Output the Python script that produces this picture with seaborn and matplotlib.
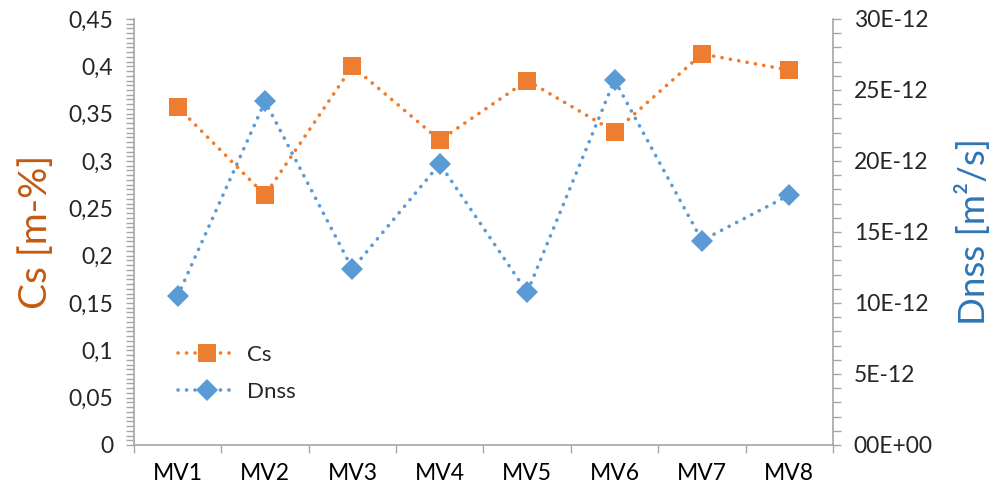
import numpy as np
import pandas as pd
import matplotlib
matplotlib.use("Agg")
import matplotlib.pyplot as plt
from matplotlib.ticker import MultipleLocator, FixedLocator, FuncFormatter
from matplotlib.lines import Line2D
import seaborn as sns

categories = ["MV1", "MV2", "MV3", "MV4", "MV5", "MV6", "MV7", "MV8"]
cs_values = [0.357, 0.264, 0.400, 0.322, 0.385, 0.331, 0.413, 0.396]
dnss_values = [10.5e-12, 24.2e-12, 12.4e-12, 19.8e-12, 10.75e-12, 25.7e-12, 14.4e-12, 17.6e-12]
left_ticks = [0, 0.05, 0.1, 0.15, 0.2, 0.25, 0.3, 0.35, 0.4, 0.45]
right_ticks = [0, 5e-12, 10e-12, 15e-12, 20e-12, 25e-12, 30e-12]
right_labels = ["00E+00", "5E-12", "10E-12", "15E-12", "20E-12", "25E-12", "30E-12"]

sns.set_style("white")
plt.rcParams['font.family'] = ['Lato', 'DejaVu Sans']

orange = "#ED7D31"
blue = "#5B9BD5"
grey = "#A6A6A6"

df = pd.DataFrame({"cat": categories, "Cs": cs_values, "Dnss": dnss_values})

fig = plt.figure(figsize=(9.97, 4.93), dpi=100)
ax = fig.add_axes([0.1344, 0.0974, 0.8355 - 0.1344, 0.9615 - 0.0974])
ax2 = ax.twinx()

line_kw = dict(linewidth=2.6, dashes=(0.05, 2.3), dash_capstyle="round")
sns.lineplot(data=df, x="cat", y="Cs", ax=ax, color=orange, marker="s",
             markersize=13, markeredgewidth=0, sort=False, **line_kw)
sns.lineplot(data=df, x="cat", y="Dnss", ax=ax2, color=blue, marker="D",
             markersize=11, markeredgewidth=0, sort=False, **line_kw)

n = len(categories)
ax.set_xlim(-0.5, n - 0.5)
ax.set_ylim(0, 0.45)
ax2.set_ylim(0, 30e-12)

tick_fs = 16.5

# left axis
ax.yaxis.set_major_locator(FixedLocator(left_ticks))
ax.yaxis.set_minor_locator(MultipleLocator(0.005))
ax.yaxis.set_major_formatter(FuncFormatter(lambda v, p: ("%g" % round(v, 3)).replace(".", ",")))
ax2.yaxis.set_major_locator(FixedLocator(right_ticks))
ax2.yaxis.set_minor_locator(MultipleLocator(1e-12))
ax2.set_yticklabels(right_labels)

# x axis
ax.set_xticks(range(n))
ax.set_xticklabels(categories)
ax.xaxis.set_minor_locator(FixedLocator(np.arange(-0.5, n, 1.0)))
ax.tick_params(axis="x", which="major", length=0, pad=13, labelsize=tick_fs, labelcolor="#000000")
ax.tick_params(axis="x", which="minor", length=6, width=1, color=grey, direction="out", bottom=True)
ax.tick_params(axis="y", which="both", length=6, width=1, color=grey, direction="out", left=True,
               labelsize=tick_fs, pad=9)
ax2.tick_params(axis="y", which="both", length=6, width=1, color=grey, direction="out", right=True,
                labelsize=tick_fs, pad=9)

for a in (ax, ax2):
    for s in a.spines.values():
        s.set_visible(False)
ax.spines["left"].set_visible(True)
ax.spines["bottom"].set_visible(True)
ax2.spines["right"].set_visible(True)
for s in (ax.spines["left"], ax.spines["bottom"], ax2.spines["right"]):
    s.set_color(grey)
    s.set_linewidth(1.2)

ax.set_xlabel("")
ax.set_ylabel("Cs [m-%]", color="#C55A11", fontsize=28, labelpad=10)
ax2.set_ylabel("Dnss [m²/s]", color="#2E75B6", fontsize=26.5, labelpad=16, rotation=90)

handles = [
    Line2D([0], [0], color=orange, marker="s", markersize=13, markeredgewidth=0, **line_kw),
    Line2D([0], [0], color=blue, marker="D", markersize=11, markeredgewidth=0, **line_kw),
]
ax2.legend(handles, ["Cs", "Dnss"], loc="lower left", bbox_to_anchor=(0.035, 0.055),
           frameon=False, fontsize=16, handlelength=2.6, labelspacing=0.75, handletextpad=0.5)

fig.savefig("out.png", dpi=100)
